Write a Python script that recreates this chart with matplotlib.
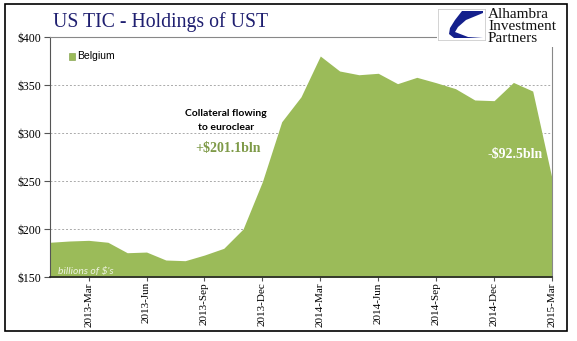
import matplotlib
matplotlib.use("Agg")
import matplotlib.pyplot as plt
from matplotlib.patches import Rectangle, Polygon

# Belgium holdings of US Treasuries, monthly 2013-Jan .. 2015-Mar (billions $)
months = ["2013-Jan", "2013-Feb", "2013-Mar", "2013-Apr", "2013-May", "2013-Jun",
          "2013-Jul", "2013-Aug", "2013-Sep", "2013-Oct", "2013-Nov", "2013-Dec",
          "2014-Jan", "2014-Feb", "2014-Mar", "2014-Apr", "2014-May", "2014-Jun",
          "2014-Jul", "2014-Aug", "2014-Sep", "2014-Oct", "2014-Nov", "2014-Dec",
          "2015-Jan", "2015-Feb", "2015-Mar"]
belgium = [186.5, 187.8, 188.5, 186.5, 175.6, 176.3, 168.0, 167.3, 173.2, 180.2,
           200.3, 249.6, 312.0, 338.0, 380.5, 364.9, 361.0, 362.5, 351.7, 358.3,
           352.7, 346.5, 334.7, 334.0, 353.0, 344.0, 253.0]
tick_labels = ["2013-Mar", "2013-Jun", "2013-Sep", "2013-Dec", "2014-Mar",
               "2014-Jun", "2014-Sep", "2014-Dec", "2015-Mar"]
y_ticks = [150, 200, 250, 300, 350, 400]

green = "#9BBB59"
navy = "#1F1F70"
serif = ["Liberation Serif", "DejaVu Serif"]

W, H = 577, 341
fig = plt.figure(figsize=(W / 100, H / 100), dpi=100)

def fx(px):
    return px / W

def fy(py):
    return 1 - py / H

ax = fig.add_axes([fx(50), fy(277.3), fx(552 - 50), (277.3 - 37.3) / H])

x = list(range(len(months)))
ax.fill_between(x, belgium, 150, color=green, lw=0, zorder=2)
ax.set_xlim(0, len(months) - 1)
ax.set_ylim(150, 400)

ax.set_yticks(y_ticks)
ax.set_yticklabels([f"${v}" for v in y_ticks], fontsize=8.5, family=serif)
tick_pos = [months.index(m) for m in tick_labels]
ax.set_xticks(tick_pos)
ax.set_xticklabels(tick_labels, rotation=90, fontsize=8.0, family=serif)
ax.tick_params(axis="y", length=4, width=0.8, color="#555555", pad=2)
ax.tick_params(axis="x", length=3, width=0.8, color="#555555", pad=0.5)

for v in y_ticks[1:-1]:
    ax.axhline(v, color="#AAAAAA", lw=0.7, ls=(0, (2, 2)), zorder=1)

ax.spines["left"].set_color("#555555")
ax.spines["bottom"].set_color("#222222")
ax.spines["bottom"].set_linewidth(1.2)
ax.spines["top"].set_color("#888888")
ax.spines["right"].set_color("#888888")
ax.spines["bottom"].set_zorder(3)

# legend
ax.add_patch(Rectangle((0.038, 0.906), 0.012, 0.03, transform=ax.transAxes,
                       facecolor=green, edgecolor="#7A9A40", lw=0.4, zorder=4))
ax.text(0.055, 0.921, "Belgium", transform=ax.transAxes, fontsize=7.5,
        family=["Liberation Sans"], va="center", ha="left")

# annotations
ax.text(9.1, 321, "Collateral flowing", fontsize=7.5, family=["Lato", "DejaVu Sans"],
        fontweight="bold", ha="center", va="center", zorder=5)
ax.text(9.1, 306.5, "to euroclear", fontsize=7.5, family=["Lato", "DejaVu Sans"],
        fontweight="bold", ha="center", va="center", zorder=5)
ax.text(9.2, 284.5, "+$201.1bln", fontsize=10, family=serif, fontweight="bold",
        color="#7E9A48", ha="center", va="center", zorder=5)
ax.text(24.1, 278, "-$92.5bln", fontsize=10, family=serif, fontweight="bold",
        color="white", ha="center", va="center", zorder=5)
ax.text(0.4, 156.5, "billions of $'s", fontsize=7.5, family=["Lato", "DejaVu Sans"],
        style="italic", color="#EEF3E0", ha="left", va="center", zorder=5)

# title
fig.text(fx(53), fy(22), "US TIC - Holdings of UST", fontsize=14.2, family=serif,
         color=navy, ha="left", va="center")

# logo area (white patch hides the axes frame under it)
fig.patches.append(Rectangle((fx(437), fy(47)), fx(560 - 437), (47 - 5) / H,
                             transform=fig.transFigure, facecolor="white",
                             edgecolor="none", zorder=5))
lax = fig.add_axes([fx(438), fy(40), fx(47), 31 / H], zorder=6)
lax.set_xlim(0, 47)
lax.set_ylim(31, 0)
lax.set_xticks([])
lax.set_yticks([])
for s in lax.spines.values():
    s.set_color("#CCCCCC")
    s.set_linewidth(0.6)
lax.add_patch(Polygon([(24, 2), (45, 2), (45, 4), (28, 11), (20, 18), (17, 23),
                       (30, 28), (45, 29), (16, 29), (11, 25), (12, 19), (17, 11)],
                      closed=True, facecolor="#14208C", edgecolor="none"))
for i, word in enumerate(["Alhambra", "Investment", "Partners"]):
    fig.text(fx(488), fy(14.5 + 12.2 * i), word, fontsize=11, family=serif,
             color="#111111", ha="left", va="center", zorder=7)

# outer frame
fig.patches.append(Rectangle((fx(5), fy(331)), fx(567 - 5), (331 - 4) / H,
                             transform=fig.transFigure, facecolor="none",
                             edgecolor="black", lw=1.2, zorder=8))

fig.savefig("out.png", dpi=100)
